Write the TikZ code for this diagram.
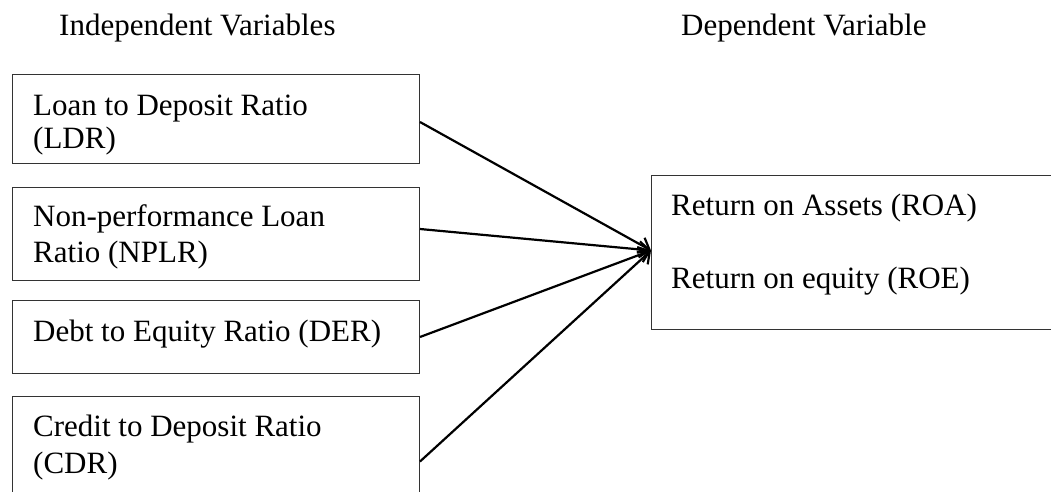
\documentclass[tikz,border=0pt]{standalone}
\usepackage{fontspec}
\setmainfont{Liberation Serif}
\usetikzlibrary{arrows.meta}
\begin{document}
\begin{tikzpicture}[x=1pt,y=-1pt,
  box/.style={draw=black!80, line width=1pt, inner sep=0pt, anchor=north west},
  lbl/.style={inner sep=0pt, anchor=base west, font=\fontsize{31}{36}\selectfont},
  link/.style={line width=2.2pt, -{Straight Barb[length=10pt,width=16pt,line width=2.2pt]}}]
\clip (0,0) rectangle (1051,492);
\useasboundingbox (0,0) rectangle (1051,492);
\fill[white] (0,0) rectangle (1051,492);
% headers
\node[lbl] (hi) at (59,36) {Independent Variables};
\node[lbl] (hd) at (681,36) {Dependent Variable};
% boxes
\node[box, minimum width=407pt, minimum height=89pt] (b1) at (12,74) {};
\node[box, minimum width=407pt, minimum height=93pt] (b2) at (12,187) {};
\node[box, minimum width=407pt, minimum height=73pt] (b3) at (12,300) {};
\node[box, minimum width=407pt, minimum height=130pt] (b4) at (12,396) {};
\node[box, minimum width=450pt, minimum height=154pt] (r) at (651,175) {};
% texts
\node[lbl] (t1a) at (33,115) {Loan to Deposit Ratio};
\node[lbl] (t1b) at (33,148) {(LDR)};
\node[lbl] (t2a) at (33,226) {Non-performance Loan};
\node[lbl] (t2b) at (33,262) {Ratio (NPLR)};
\node[lbl] (t3) at (33,341) {Debt to Equity Ratio (DER)};
\node[lbl] (t4a) at (33,436) {Credit to Deposit Ratio};
\node[lbl] (t4b) at (33,473) {(CDR)};
\node[lbl] (ra) at (671,215) {Return on Assets (ROA)};
\node[lbl] (rb) at (671,288) {Return on equity (ROE)};
% connectors
\draw[link] ([yshift=-3pt]b1.east) -- ([yshift=2pt]r.west);
\draw[link] ([yshift=5pt]b2.east) -- ([yshift=2pt]r.west);
\draw[link] (b3.east) -- ([yshift=2pt]r.west);
\draw[link] (b4.east) -- ([yshift=2pt]r.west);
\end{tikzpicture}
\end{document}
